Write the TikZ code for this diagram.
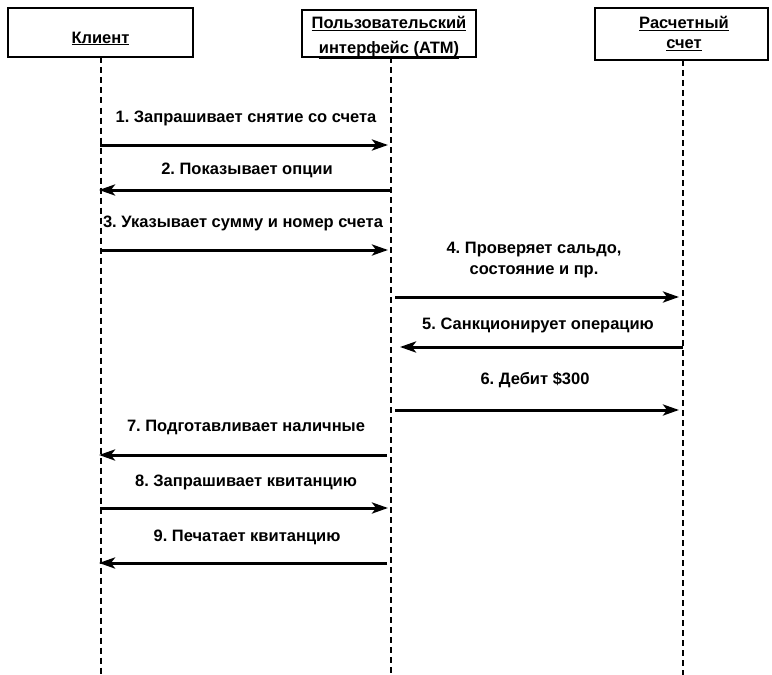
\documentclass[tikz,border=0pt]{standalone}
\usepackage{fontspec}
\setmainfont{Liberation Sans}
\usetikzlibrary{arrows.meta}
\frenchspacing
\tikzset{
  hdrbox/.style={draw, line width=2.2bp, inner sep=0pt},
  hdrtxt/.style={inner sep=0pt, align=center, font=\bfseries\fontsize{16.5bp}{25bp}\selectfont},
  life/.style={line width=2.2bp, dash pattern=on 6bp off 4bp},
  msg/.style={line width=3bp, -{Stealth[length=16bp,width=11bp,inset=4bp]}},
  lbl/.style={font=\bfseries\fontsize{16.5bp}{21bp}\selectfont, inner sep=0pt, align=center}
}
\begin{document}
\begin{tikzpicture}[x=1bp,y=-1bp]
\useasboundingbox (0,0) rectangle (772,675);
% header boxes
\node[hdrbox, minimum width=185bp, minimum height=49bp] (cli) at (100.5,32.5) {};
\node[hdrbox, minimum width=174bp, minimum height=47bp] (atm) at (389,33.5) {};
\node[hdrbox, minimum width=173bp, minimum height=52bp] (acc) at (681.5,34) {};
\node[hdrtxt] (cliT) at (100.5,38.5) {\underline{Клиент}};
\node[hdrtxt] (atmT) at (389,37.5) {\underline{Пользовательский}\\\underline{интерфейс (ATM)}};
\node[hdrtxt, font=\bfseries\fontsize{16.5bp}{20bp}\selectfont] (accT) at (684,33.5) {\underline{Расчетный}\\\underline{счет}};
% lifelines
\coordinate (cliS) at (101,57.5);
\coordinate (cliE) at (101,675);
\coordinate (atmS) at (391,57);
\coordinate (atmE) at (391,675);
\coordinate (accS) at (683,60);
\coordinate (accE) at (683,675);
\draw[life] (cliS) -- (cliE);
\draw[life] (atmS) -- (atmE);
\draw[life] (accS) -- (accE);
% message anchor points
\foreach \n/\y in {1/145,2/190,3/250,7/455,8/508,9/563}{
  \coordinate (c\n) at (101,\y);
  \coordinate (a\n) at (391,\y);
}
\foreach \n/\y in {4/297,5/347,6/410}{
  \coordinate (b\n) at (392,\y);
  \coordinate (r\n) at (683,\y);
}
% messages
\draw[msg, shorten <=-1bp, shorten >=3bp] (c1) -- (a1);
\draw[msg, shorten <=1bp, shorten >=-2bp] (a2) -- (c2);
\draw[msg, shorten <=-1bp, shorten >=3bp] (c3) -- (a3);
\draw[msg, shorten <=3bp, shorten >=4bp] (b4) -- (r4);
\draw[msg, shorten <=0bp, shorten >=8bp] (r5) -- (b5);
\draw[msg, shorten <=3bp, shorten >=4bp] (b6) -- (r6);
\draw[msg, shorten <=4bp, shorten >=-2bp] (a7) -- (c7);
\draw[msg, shorten <=-1bp, shorten >=3bp] (c8) -- (a8);
\draw[msg, shorten <=4bp, shorten >=-2bp] (a9) -- (c9);
% labels
\node[lbl] (l1) at (246,118) {1. Запрашивает снятие со счета};
\node[lbl] (l2) at (247,170) {2. Показывает опции};
\node[lbl] (l3) at (243,223) {3. Указывает сумму и номер счета};
\node[lbl] (l4) at (534,260) {4. Проверяет сальдо,\\состояние и пр.};
\node[lbl] (l5) at (538,325) {5. Санкционирует операцию};
\node[lbl] (l6) at (535,380) {6. Дебит \$300};
\node[lbl] (l7) at (246,427) {7. Подготавливает наличные};
\node[lbl] (l8) at (246,482) {8. Запрашивает квитанцию};
\node[lbl] (l9) at (247,537) {9. Печатает квитанцию};
\end{tikzpicture}
\end{document}
